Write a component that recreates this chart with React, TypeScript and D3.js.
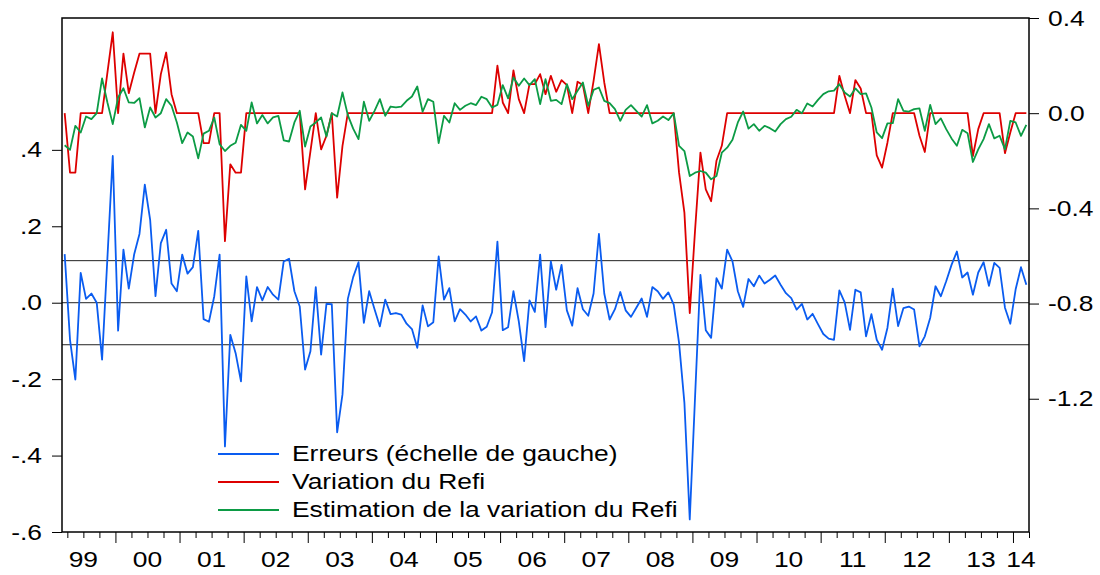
import React, { useEffect, useRef } from 'react';
import * as d3 from 'd3';

// monthly observations, 1999m3 .. 2014m3
const START_YEAR = 1999;
const START_MONTH = 3;

// Erreurs (left scale)
const erreurs: number[] = [
  0.127, -0.097, -0.201, 0.078, 0.01, 0.024, 0, -0.149, 0.117, 0.384, -0.073, 0.139,
  0.037, 0.126, 0.18, 0.309, 0.217, 0.017, 0.156, 0.191, 0.05, 0.03, 0.126, 0.076,
  0.093, 0.188, -0.043, -0.05, 0.017, 0.126, -0.376, -0.084, -0.132, -0.206, 0.069, -0.049,
  0.041, 0.006, 0.041, 0.021, 0.008, 0.108, 0.115, 0.03, -0.01, -0.175, -0.127, 0.041,
  -0.136, -0.003, -0.004, -0.339, -0.24, 0.01, 0.067, 0.106, -0.053, 0.03, -0.017, -0.062,
  0.008, -0.03, -0.027, -0.031, -0.055, -0.069, -0.118, -0.007, -0.062, -0.051, 0.121, 0.008,
  0.038, -0.049, -0.017, -0.031, -0.049, -0.036, -0.073, -0.063, -0.025, 0.16, -0.072, -0.064,
  0.03, -0.049, -0.153, 0.006, -0.024, 0.126, -0.064, 0.108, 0.034, 0.099, -0.02, -0.06,
  0.038, -0.017, -0.034, 0.024, 0.18, 0.024, -0.044, -0.017, 0.028, -0.02, -0.037, -0.013,
  0.011, -0.037, 0.041, 0.03, 0.01, 0.027, -0.005, -0.105, -0.262, -0.567, -0.245, 0.073,
  -0.072, -0.092, 0.064, 0.037, 0.139, 0.108, 0.03, -0.011, 0.062, 0.043, 0.071, 0.05,
  0.06, 0.071, 0.047, 0.025, 0.012, -0.018, -0.003, -0.044, -0.029, -0.056, -0.082, -0.094,
  -0.097, 0.032, 0.001, -0.071, 0.034, 0.027, -0.088, -0.03, -0.097, -0.123, -0.066, 0.037,
  -0.061, -0.014, -0.01, -0.018, -0.114, -0.088, -0.04, 0.043, 0.017, 0.056, 0.099, 0.134,
  0.066, 0.079, 0.021, 0.079, 0.106, 0.044, 0.104, 0.091, -0.013, -0.055, 0.035, 0.093,
  0.047,
];

// Variation du Refi (right scale)
const refi: number[] = [
  0, -0.25, -0.25, 0, 0, 0, 0, 0, 0.17, 0.34, 0, 0.25,
  0.084, 0.17, 0.25, 0.25, 0.25, 0, 0.164, 0.255, 0.08, 0, 0, 0,
  0, 0, -0.126, -0.126, 0, 0, -0.538, -0.215, -0.25, -0.25, 0, 0,
  0, 0, 0, 0, 0, 0, 0, 0, 0, -0.32, -0.16, 0,
  -0.152, -0.095, 0, -0.355, -0.137, 0, 0, 0, 0, 0, 0, 0,
  0, 0, 0, 0, 0, 0, 0, 0, 0, 0, 0, 0,
  0, 0, 0, 0, 0, 0, 0, 0, 0, 0.2, 0.045, 0,
  0.18, 0.059, 0, 0.122, 0.122, 0.164, 0.08, 0.157, 0.09, 0.139, 0.118, 0,
  0.132, 0.118, 0, 0.136, 0.29, 0.129, 0, 0, 0, 0, 0, 0,
  0, 0, 0, 0, 0, 0, 0, -0.25, -0.418, -0.84, -0.49, -0.166,
  -0.32, -0.37, -0.2, -0.137, 0, 0, 0, 0, 0, 0, 0, 0,
  0, 0, 0, 0, 0, 0, 0, 0, 0, 0, 0, 0,
  0, 0.157, 0.073, 0, 0.139, 0.104, 0, 0, -0.177, -0.229, -0.124, 0,
  0, 0, 0, 0, -0.095, -0.163, 0, 0, 0, 0, 0, 0,
  0, 0, -0.18, -0.067, 0, 0, 0, 0, -0.168, -0.081, 0, 0,
  0,
];

// Estimation de la variation du Refi (right scale)
const estimation: number[] = [
  -0.135, -0.154, -0.053, -0.081, -0.014, -0.025, 0, 0.146, 0.045, -0.046, 0.066, 0.105,
  0.045, 0.043, 0.063, -0.06, 0.024, -0.018, 0, 0.059, 0.031, -0.039, -0.126, -0.081,
  -0.098, -0.19, -0.086, -0.074, -0.018, -0.13, -0.159, -0.137, -0.124, -0.049, -0.074, 0.045,
  -0.043, -0.008, -0.043, -0.018, -0.011, -0.114, -0.119, -0.039, 0.01, -0.14, -0.056, -0.039,
  -0.018, -0.098, 0, -0.014, 0.087, -0.008, -0.065, -0.109, 0.048, -0.032, 0.01, 0.059,
  -0.011, 0.028, 0.024, 0.028, 0.052, 0.07, 0.112, 0.006, 0.059, 0.048, -0.126, -0.011,
  -0.039, 0.042, 0.014, 0.031, 0.042, 0.034, 0.069, 0.059, 0.024, 0.035, 0.118, 0.062,
  0.15, 0.115, 0.146, 0.118, 0.143, 0.038, 0.143, 0.052, 0.056, 0.038, 0.122, 0.059,
  0.094, 0.129, 0.031, 0.098, 0.108, 0.052, 0.042, 0.017, -0.032, 0.014, 0.034, 0.01,
  -0.014, 0.034, -0.043, -0.032, -0.014, -0.029, 0, -0.137, -0.159, -0.264, -0.25, -0.243,
  -0.25, -0.278, -0.264, -0.166, -0.145, -0.112, -0.039, 0.007, -0.065, -0.046, -0.074, -0.053,
  -0.063, -0.077, -0.046, -0.025, -0.015, 0.014, 0, 0.041, 0.028, 0.056, 0.08, 0.092,
  0.095, 0.122, 0.087, 0.07, 0.104, 0.08, 0.083, 0.024, -0.081, -0.105, -0.043, -0.042,
  0.059, 0.01, 0.007, 0.017, 0.02, -0.074, 0.035, -0.046, -0.022, -0.067, -0.106, -0.137,
  -0.07, -0.084, -0.205, -0.152, -0.109, -0.046, -0.106, -0.095, -0.152, -0.032, -0.039, -0.095,
  -0.049,
];

const yearLabels = ['99', '00', '01', '02', '03', '04', '05', '06', '07', '08', '09', '10', '11', '12', '13', '14'];
const leftTicks = [-0.6, -0.4, -0.2, 0, 0.2, 0.4];
const leftTickLabels = ['-.6', '-.4', '-.2', '.0', '.2', '.4'];
const rightTicks = [0.4, 0, -0.4, -0.8, -1.2];
const rightTickLabels = ['0.4', '0.0', '-0.4', '-0.8', '-1.2'];
const refLines = [-0.11, 0, 0.11];
const legendLabels = ['Erreurs (échelle de gauche)', 'Variation du Refi', 'Estimation de la variation du Refi'];
const colors = ['#0a5cf0', '#dd0000', '#0c9b45'];

const FONT = '"Liberation Sans", Arial, sans-serif';
const FS = 22;
const SX = 1.2; // text in the original is stretched horizontally

const App: React.FC = () => {
  const ref = useRef<SVGSVGElement>(null);
  const width = 1100;
  const height = 575;
  const margin = { top: 18, right: 71, bottom: 43, left: 62 };

  useEffect(() => {
    if (!ref.current) return;
    const svg = d3.select(ref.current);
    svg.selectAll('*').remove();

    const n = erreurs.length;
    const x = d3
      .scaleLinear()
      .domain([-0.5, n - 0.5])
      .range([margin.left, width - margin.right]);
    const yL = d3
      .scaleLinear()
      .domain([-0.6, 0.745])
      .range([height - margin.bottom, margin.top]);
    const yR = d3
      .scaleLinear()
      .domain([-1.76, 0.4])
      .range([height - margin.bottom, margin.top]);

    const left = margin.left;
    const right = width - margin.right;
    const top = margin.top;
    const bottom = height - margin.bottom;

    svg.append('rect').attr('width', width).attr('height', height).attr('fill', '#fff');

    // reference lines (0 and +/- band)
    svg
      .selectAll('.refline')
      .data(refLines)
      .enter()
      .append('line')
      .attr('x1', left)
      .attr('x2', right)
      .attr('y1', (d) => yL(d))
      .attr('y2', (d) => yL(d))
      .attr('stroke', '#222')
      .attr('stroke-width', 1);

    // series
    const lineL = d3
      .line<number>()
      .x((_, i) => x(i))
      .y((d) => yL(d));
    const lineR = d3
      .line<number>()
      .x((_, i) => x(i))
      .y((d) => yR(d));

    svg
      .append('path')
      .datum(erreurs)
      .attr('fill', 'none')
      .attr('stroke', colors[0])
      .attr('stroke-width', 1.8)
      .attr('stroke-linejoin', 'round')
      .attr('d', lineL);
    svg
      .append('path')
      .datum(refi)
      .attr('fill', 'none')
      .attr('stroke', colors[1])
      .attr('stroke-width', 1.8)
      .attr('stroke-linejoin', 'round')
      .attr('d', lineR);
    svg
      .append('path')
      .datum(estimation)
      .attr('fill', 'none')
      .attr('stroke', colors[2])
      .attr('stroke-width', 1.8)
      .attr('stroke-linejoin', 'round')
      .attr('d', lineR);

    // frame
    svg
      .append('rect')
      .attr('x', left)
      .attr('y', top)
      .attr('width', right - left)
      .attr('height', bottom - top)
      .attr('fill', 'none')
      .attr('stroke', '#000')
      .attr('stroke-width', 1.5);

    // left axis
    const gL = svg
      .append('g')
      .attr('transform', `translate(${left},0)`)
      .call(d3.axisLeft(yL).tickValues(leftTicks).tickSize(10).tickFormat(() => ''));
    gL.select('.domain').remove();
    gL.selectAll('line').attr('stroke', '#000');

    svg
      .selectAll('.lbl-left')
      .data(leftTicks)
      .enter()
      .append('text')
      .attr('transform', (d) => `translate(${left - 20},${yL(d) + 7.5}) scale(${SX},1)`)
      .attr('text-anchor', 'end')
      .attr('font-family', FONT)
      .attr('font-size', FS)
      .text((_, i) => leftTickLabels[i]);

    // right axis
    const gR = svg
      .append('g')
      .attr('transform', `translate(${right},0)`)
      .call(d3.axisRight(yR).tickValues(rightTicks).tickSize(10).tickFormat(() => ''));
    gR.select('.domain').remove();
    gR.selectAll('line').attr('stroke', '#000');

    svg
      .selectAll('.lbl-right')
      .data(rightTicks)
      .enter()
      .append('text')
      .attr('transform', (d) => `translate(${right + 19},${yR(d) + 7.5}) scale(${SX},1)`)
      .attr('text-anchor', 'start')
      .attr('font-family', FONT)
      .attr('font-size', FS)
      .text((_, i) => rightTickLabels[i]);

    // bottom axis: quarterly ticks, longer at year boundaries
    const minor: number[] = [];
    const major: number[] = [];
    for (let i = 1; i <= n; i++) {
      const m = (START_MONTH - 1 + i) % 12;
      if (m % 3 === 0) {
        if (m === 0) major.push(i - 0.5);
        else minor.push(i - 0.5);
      }
    }
    const gMinor = svg
      .append('g')
      .attr('transform', `translate(0,${bottom})`)
      .call(d3.axisBottom(x).tickValues(minor).tickSize(6).tickFormat(() => ''));
    gMinor.select('.domain').remove();
    gMinor.selectAll('line').attr('stroke', '#000');
    const gMajor = svg
      .append('g')
      .attr('transform', `translate(0,${bottom})`)
      .call(d3.axisBottom(x).tickValues(major).tickSize(11).tickFormat(() => ''));
    gMajor.select('.domain').remove();
    gMajor.selectAll('line').attr('stroke', '#000');

    svg
      .selectAll('.lbl-year')
      .data(yearLabels)
      .enter()
      .append('text')
      .attr('transform', (_, k) => {
        const jan = k * 12 - (START_MONTH - 1);
        const cx = Math.min(x(jan + 5.5), x(n - 0.5) - 8);
        return `translate(${cx},${bottom + 35}) scale(${SX},1)`;
      })
      .attr('text-anchor', 'middle')
      .attr('font-family', FONT)
      .attr('font-size', FS)
      .text((d) => d);

    // legend
    const leg = svg.append('g').attr('transform', 'translate(218,454)');
    legendLabels.forEach((label, k) => {
      const row = leg.append('g').attr('transform', `translate(0,${k * 28})`);
      row
        .append('line')
        .attr('x1', 0)
        .attr('x2', 61)
        .attr('stroke', colors[k])
        .attr('stroke-width', 2);
      row
        .append('text')
        .attr('transform', `translate(74,7) scale(${SX},1)`)
        .attr('font-family', FONT)
        .attr('font-size', FS)
        .text(label);
    });
  }, []);

  return (
    <svg
      ref={ref}
      width={width}
      height={height}
      style={{ position: 'absolute', left: 0, top: 0 }}
    />
  );
};

export default App;
